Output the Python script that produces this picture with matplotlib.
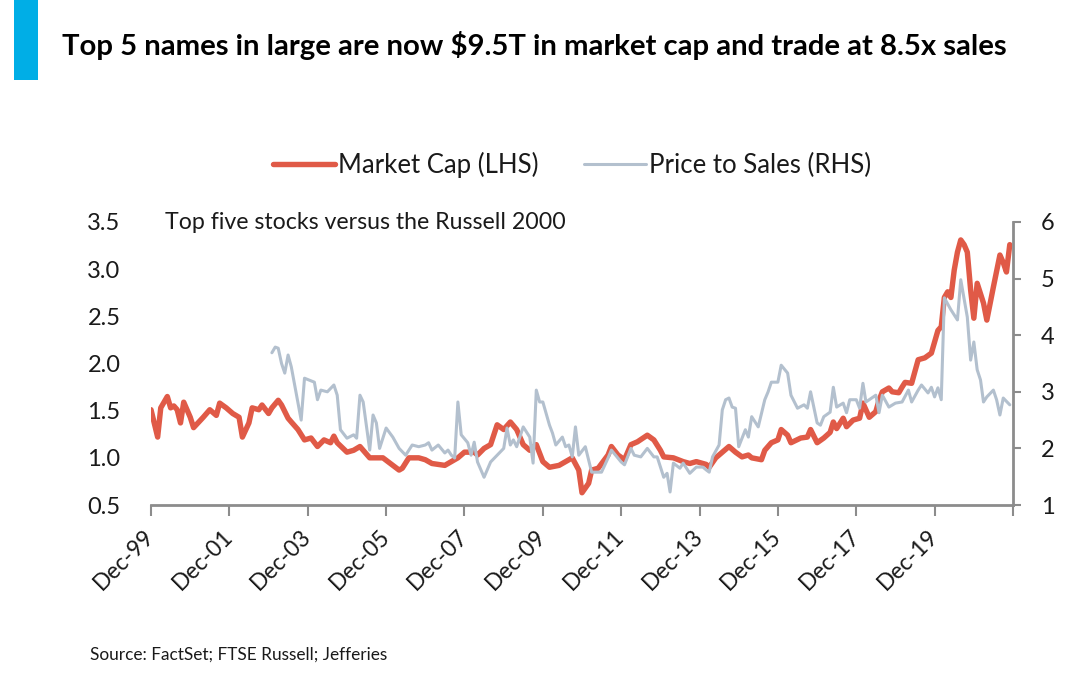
import matplotlib
matplotlib.use("Agg")
import matplotlib.pyplot as plt
import pandas as pd
from matplotlib.patches import Rectangle

plt.rcParams['font.family'] = ['Lato', 'DejaVu Sans']

# ---------------- data ----------------
mc_dates = ['1999-12', '2000-02', '2000-03', '2000-05', '2000-06', '2000-07', '2000-08', '2000-09', '2000-10',
            '2000-12', '2001-01', '2001-04', '2001-06', '2001-08', '2001-09', '2001-11', '2002-01', '2002-03',
            '2002-04', '2002-06', '2002-07', '2002-09', '2002-10', '2002-12', '2003-01', '2003-03', '2003-04',
            '2003-06', '2003-07', '2003-09', '2003-11', '2004-01', '2004-03', '2004-05', '2004-07', '2004-08',
            '2004-09', '2004-12', '2005-02', '2005-04', '2005-07', '2005-09', '2005-11', '2006-02', '2006-04',
            '2006-05', '2006-07', '2006-10', '2006-12', '2007-02', '2007-06', '2007-08', '2007-10', '2007-12',
            '2008-03', '2008-04', '2008-06', '2008-08', '2008-10', '2008-12', '2009-02', '2009-04', '2009-06',
            '2009-08', '2009-10', '2009-12', '2010-02', '2010-05', '2010-07', '2010-09', '2010-11', '2010-12',
            '2011-02', '2011-03', '2011-05', '2011-08', '2011-09', '2011-11', '2012-01', '2012-03', '2012-05',
            '2012-08', '2012-10', '2012-12', '2013-01', '2013-04', '2013-07', '2013-09', '2013-11', '2014-02',
            '2014-03', '2014-05', '2014-07', '2014-09', '2014-11', '2015-01', '2015-03', '2015-04', '2015-07',
            '2015-08', '2015-10', '2015-12', '2016-01', '2016-03', '2016-04', '2016-07', '2016-09', '2016-10',
            '2016-12', '2017-02', '2017-04', '2017-05', '2017-06', '2017-08', '2017-09', '2017-11', '2018-01',
            '2018-02', '2018-04', '2018-06', '2018-07', '2018-08', '2018-10', '2018-11', '2019-01', '2019-02',
            '2019-03', '2019-05', '2019-07', '2019-09', '2019-11', '2019-12', '2020-01', '2020-02', '2020-03',
            '2020-04', '2020-05', '2020-06', '2020-07', '2020-08', '2020-09', '2020-10', '2020-11', '2020-12',
            '2021-01', '2021-03', '2021-04', '2021-06', '2021-08', '2021-09', '2021-10', '2021-11']
mc_values = [1.51, 1.22, 1.53, 1.65, 1.53, 1.55, 1.51, 1.37, 1.59,
             1.43, 1.32, 1.43, 1.51, 1.45, 1.58, 1.53, 1.47, 1.43,
             1.22, 1.37, 1.53, 1.51, 1.56, 1.47, 1.53, 1.61, 1.56,
             1.42, 1.38, 1.30, 1.19, 1.21, 1.12, 1.19, 1.16, 1.23,
             1.16, 1.06, 1.08, 1.12, 1.00, 1.00, 1.00, 0.92, 0.87,
             0.89, 1.00, 1.00, 0.98, 0.94, 0.92, 0.96, 1.00, 1.06,
             1.06, 1.03, 1.10, 1.14, 1.35, 1.30, 1.38, 1.30, 1.14,
             1.08, 1.14, 0.96, 0.90, 0.92, 0.96, 1.00, 0.87, 0.63,
             0.73, 0.87, 0.89, 1.03, 1.12, 1.03, 0.98, 1.14, 1.17,
             1.24, 1.19, 1.08, 1.01, 1.00, 0.96, 0.94, 0.96, 0.93,
             0.90, 1.00, 1.06, 1.12, 1.06, 1.01, 1.03, 1.00, 0.98,
             1.08, 1.16, 1.19, 1.30, 1.24, 1.16, 1.21, 1.22, 1.30,
             1.16, 1.21, 1.27, 1.38, 1.31, 1.42, 1.33, 1.40, 1.42,
             1.58, 1.43, 1.49, 1.61, 1.70, 1.74, 1.70, 1.69, 1.75,
             1.80, 1.79, 2.04, 2.06, 2.11, 2.23, 2.35, 2.39, 2.70,
             2.76, 2.70, 2.99, 3.18, 3.31, 3.26, 3.18, 2.78, 2.48,
             2.85, 2.64, 2.46, 2.81, 3.15, 3.07, 2.97, 3.26]

ps_dates = ['2003-01', '2003-02', '2003-03', '2003-04', '2003-05', '2003-06', '2003-07', '2003-10', '2003-11',
            '2004-02', '2004-03', '2004-04', '2004-06', '2004-08', '2004-09', '2004-10', '2004-12', '2005-02',
            '2005-03', '2005-04', '2005-05', '2005-07', '2005-08', '2005-09', '2005-10', '2005-12', '2006-02',
            '2006-04', '2006-06', '2006-08', '2006-10', '2006-12', '2007-01', '2007-02', '2007-04', '2007-06',
            '2007-07', '2007-08', '2007-09', '2007-10', '2007-11', '2008-01', '2008-02', '2008-03', '2008-04',
            '2008-06', '2008-08', '2008-10', '2008-12', '2009-01', '2009-02', '2009-03', '2009-04', '2009-06',
            '2009-08', '2009-09', '2009-10', '2009-11', '2009-12', '2010-02', '2010-03', '2010-04', '2010-06',
            '2010-07', '2010-08', '2010-09', '2010-10', '2010-11', '2011-01', '2011-03', '2011-06', '2011-08',
            '2011-09', '2011-12', '2012-01', '2012-03', '2012-04', '2012-06', '2012-08', '2012-10', '2012-11',
            '2013-01', '2013-02', '2013-03', '2013-04', '2013-06', '2013-07', '2013-09', '2013-11', '2014-01',
            '2014-02', '2014-03', '2014-04', '2014-06', '2014-07', '2014-08', '2014-09', '2014-10', '2014-11',
            '2014-12', '2015-02', '2015-03', '2015-04', '2015-06', '2015-08', '2015-09', '2015-10', '2015-12',
            '2016-01', '2016-03', '2016-04', '2016-06', '2016-08', '2016-09', '2016-10', '2016-12', '2017-01',
            '2017-02', '2017-04', '2017-05', '2017-06', '2017-08', '2017-09', '2017-10', '2017-12', '2018-01',
            '2018-02', '2018-03', '2018-06', '2018-07', '2018-08', '2018-10', '2018-12', '2019-02', '2019-04',
            '2019-05', '2019-07', '2019-08', '2019-10', '2019-11', '2019-12', '2020-01', '2020-02', '2020-03',
            '2020-05', '2020-07', '2020-08', '2020-10', '2020-11', '2020-12', '2021-01', '2021-02', '2021-03',
            '2021-04', '2021-06', '2021-07', '2021-08', '2021-09', '2021-11']
ps_values = [3.69, 3.79, 3.77, 3.50, 3.33, 3.65, 3.44, 2.50, 3.24,
             3.17, 2.86, 3.03, 3.00, 3.12, 2.94, 2.33, 2.18, 2.24,
             2.18, 2.94, 2.82, 1.97, 2.59, 2.45, 2.00, 2.36, 2.20,
             2.00, 1.88, 2.06, 2.03, 2.06, 2.10, 1.97, 2.06, 1.92,
             1.97, 1.88, 1.83, 2.82, 2.24, 2.10, 1.88, 2.11, 1.76,
             1.49, 1.76, 1.88, 2.00, 2.36, 2.06, 2.15, 2.03, 2.38,
             2.20, 1.74, 3.03, 2.82, 2.82, 2.41, 2.27, 2.06, 2.20,
             2.03, 2.06, 1.85, 2.38, 1.88, 2.03, 1.58, 1.58, 1.83,
             1.97, 1.76, 1.71, 2.00, 1.88, 1.85, 2.00, 1.85, 1.85,
             1.49, 1.56, 1.23, 1.74, 1.65, 1.74, 1.56, 1.67, 1.67,
             1.62, 1.58, 1.85, 2.06, 2.68, 2.86, 2.89, 2.73, 2.71,
             2.03, 2.33, 2.20, 2.56, 2.38, 2.86, 3.00, 3.17, 3.17,
             3.47, 3.33, 2.94, 2.71, 2.77, 2.71, 3.00, 2.45, 2.41,
             2.56, 2.64, 3.08, 2.73, 2.80, 2.63, 2.86, 2.86, 2.71,
             3.15, 2.82, 2.94, 2.63, 2.94, 2.73, 2.80, 2.82, 3.03,
             2.82, 3.03, 3.12, 2.98, 3.08, 2.91, 3.07, 2.86, 4.66,
             4.45, 4.27, 4.98, 4.32, 3.56, 3.88, 3.39, 3.21, 2.82,
             2.91, 3.03, 2.86, 2.59, 2.89, 2.77]

x_tick_dates = ['1999-12', '2001-12', '2003-12', '2005-12', '2007-12', '2009-12',
                '2011-12', '2013-12', '2015-12', '2017-12', '2019-12', '2021-12']
x_tick_labels = ['Dec-99', 'Dec-01', 'Dec-03', 'Dec-05', 'Dec-07', 'Dec-09',
                 'Dec-11', 'Dec-13', 'Dec-15', 'Dec-17', 'Dec-19', '']
left_ticks = [0.5, 1.0, 1.5, 2.0, 2.5, 3.0, 3.5]
right_ticks = [1, 2, 3, 4, 5, 6]

title = 'Top 5 names in large are now $9.5T in market cap and trade at 8.5x sales'
subtitle = 'Top five stocks versus the Russell 2000'
source = 'Source: FactSet; FTSE Russell; Jefferies'
series_names = ['Market Cap (LHS)', 'Price to Sales (RHS)']

# ---------------- styling ----------------
W, H = 1074, 677
RED = '#E05A47'
GREY = '#B3C0CE'
AXC = '#8C8C8C'
TXT = '#1a1a1a'

fig = plt.figure(figsize=(W / 100, H / 100), dpi=100)

def fx(px):
    return px / W

def fy(py):
    return 1 - py / H

ax = fig.add_axes([fx(151), fy(505), fx(1013) - fx(151), fy(222) - fy(505)])
ax2 = ax.twinx()

mc_x = pd.to_datetime(mc_dates)
ps_x = pd.to_datetime(ps_dates)
l1, = ax.plot(mc_x, mc_values, color=RED, lw=3.9, solid_joinstyle='round', solid_capstyle='round',
              label=series_names[0])
l2, = ax2.plot(ps_x, ps_values, color=GREY, lw=2.2, solid_joinstyle='round', solid_capstyle='round',
               label=series_names[1])

tick_x = pd.to_datetime(x_tick_dates)
ax.set_xlim(tick_x[0], tick_x[-1])
ax.set_ylim(0.5, 3.5)
ax2.set_ylim(1, 6)

ax.set_xticks(tick_x)
ax.set_xticklabels(x_tick_labels, rotation=45, ha='right', va='center', rotation_mode='anchor')
ax.set_yticks(left_ticks)
ax.set_yticklabels([f'{v:.1f}' for v in left_ticks])
ax2.set_yticks(right_ticks)
ax2.set_yticklabels([str(v) for v in right_ticks])

for s in ['top', 'left', 'right']:
    ax.spines[s].set_visible(False)
for s in ['top', 'left', 'bottom']:
    ax2.spines[s].set_visible(False)
ax.spines['bottom'].set_color(AXC)
ax.spines['bottom'].set_linewidth(2.0)
ax2.spines['right'].set_color(AXC)
ax2.spines['right'].set_linewidth(2.0)

ax.tick_params(axis='x', direction='out', length=8, width=1.5, color=AXC, pad=12,
               labelsize=16.5, labelcolor=TXT)
ax.tick_params(axis='y', length=0, pad=22, labelsize=17, labelcolor=TXT)
ax2.tick_params(axis='y', direction='out', length=6, width=1.5, color=AXC, pad=14,
                labelsize=17, labelcolor=TXT)

# legend
leg = fig.legend(handles=[l1, l2], loc='center', bbox_to_anchor=(fx(572), fy(165)), ncol=2,
                 frameon=False, fontsize=18.5, handlelength=2.4, handletextpad=0.1,
                 columnspacing=1.8)
for t in leg.get_texts():
    t.set_color(TXT)

# texts
t_title = fig.text(fx(62), fy(46), title, fontsize=20, fontweight='bold', color='#000000',
                   ha='left', va='center')
t_sub = fig.text(fx(165), fy(222), subtitle, fontsize=15, color=TXT, ha='left', va='center')
t_src = fig.text(fx(90), fy(655), source, fontsize=11.5, color=TXT, ha='left', va='center')

fig.add_artist(Rectangle((fx(14), fy(80)), fx(38) - fx(14), fy(0) - fy(80), transform=fig.transFigure,
                         facecolor='#00AEE6', edgecolor='none'))

# fit text widths to the reference layout
fig.canvas.draw()
r = fig.canvas.get_renderer()
for t, target in [(t_title, 943), (t_sub, 402), (t_src, 297)]:
    w = t.get_window_extent(r).width
    t.set_fontsize(t.get_fontsize() * target / w)

fig.savefig('out.png', dpi=100, facecolor='white')
